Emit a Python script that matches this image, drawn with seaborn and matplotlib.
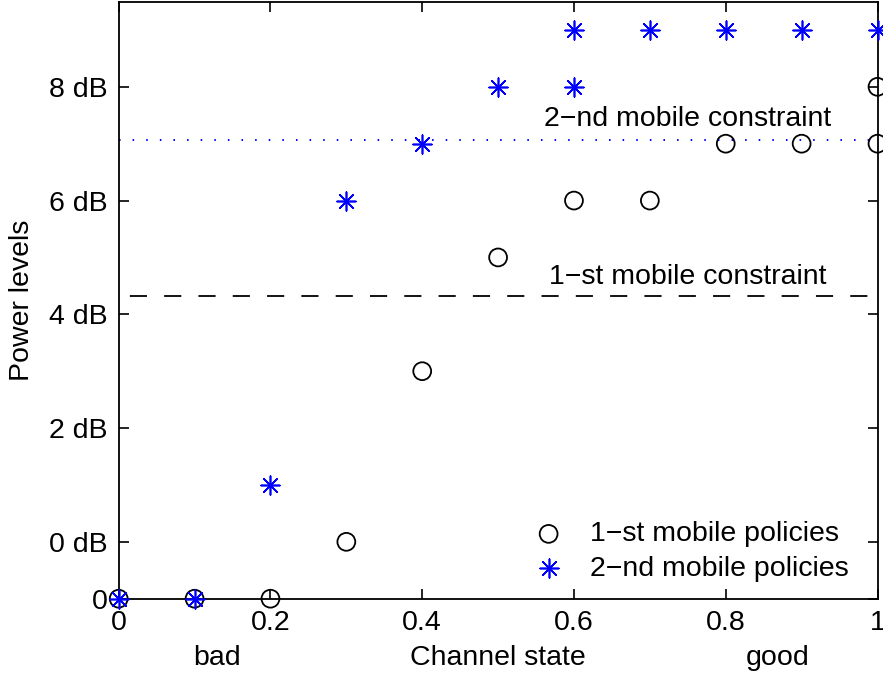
import matplotlib
matplotlib.use("Agg")
import matplotlib.pyplot as plt
import seaborn as sns

# policy levels (-1 stands for zero power)
first_x = [0.0, 0.1, 0.2, 0.3, 0.4, 0.5, 0.6, 0.7, 0.8, 0.9, 1.0, 1.0]
first_y = [-1, -1, -1, 0, 3, 5, 6, 6, 7, 7, 7, 8]
second_x = [0.0, 0.1, 0.2, 0.3, 0.4, 0.5, 0.6, 0.6, 0.7, 0.8, 0.9, 1.0]
second_y = [-1, -1, 1, 6, 7, 8, 8, 9, 9, 9, 9, 9]

first_constraint = 4.32
second_constraint = 7.07

x_ticks = [0, 0.2, 0.4, 0.6, 0.8, 1]
x_tick_labels = ["0", "0.2", "0.4", "0.6", "0.8", "1"]
y_ticks = [-1, 0, 2, 4, 6, 8]
y_tick_labels = ["0", "0 dB", "2 dB", "4 dB", "6 dB", "8 dB"]

sns.set_style("ticks")
plt.rcParams["font.family"] = ["Liberation Sans", "DejaVu Sans"]
plt.rcParams["font.size"] = 20.5
plt.rcParams["axes.linewidth"] = 1.3
plt.rcParams["text.color"] = "black"
plt.rcParams["axes.labelcolor"] = "black"
plt.rcParams["xtick.color"] = "black"
plt.rcParams["ytick.color"] = "black"
plt.rcParams["axes.edgecolor"] = "black"

fig = plt.figure(figsize=(8.83, 6.79), dpi=100)
ax = fig.add_axes([118.7 / 883, 1 - 598.7 / 679, (877.5 - 118.7) / 883, (598.7 - 1.5) / 679])

ax.axhline(first_constraint, color="black", lw=1.3, linestyle=(13, (9.5, 9.5)))
ax.axhline(second_constraint, color="blue", lw=1.4, linestyle=(0, (0.8, 6.2)))

sns.scatterplot(x=first_x, y=first_y, marker="o", s=165, facecolor="none",
                edgecolor="black", linewidth=1.3, clip_on=False, zorder=3,
                label="1\u2212st mobile policies", ax=ax)
sns.scatterplot(x=second_x, y=second_y, marker=(8, 2, 0), s=180, color="blue",
                linewidth=1.2, clip_on=False, zorder=4,
                label="2\u2212nd mobile policies", ax=ax)

ax.text(0.75, 7.43, "2\u2212nd mobile constraint", ha="center", va="center")
ax.text(0.75, 4.66, "1\u2212st mobile constraint", ha="center", va="center")

ax.set_xlim(0, 1)
ax.set_ylim(-1, 9.5)
ax.set_xticks(x_ticks)
ax.set_xticklabels(x_tick_labels)
ax.set_yticks(y_ticks)
ax.set_yticklabels(y_tick_labels)
ax.tick_params(direction="in", length=7, width=1.2, top=True, right=True, pad=8)
for side in ["top", "right", "bottom", "left"]:
    ax.spines[side].set_visible(True)

ax.set_xlabel("")
ax.set_ylabel("Power levels", labelpad=10)
ax.text(0.5, -0.1, "Channel state", transform=ax.transAxes, ha="center", va="center")
ax.text(0.129, -0.1, "bad", transform=ax.transAxes, ha="center", va="center")
ax.text(0.868, -0.1, "good", transform=ax.transAxes, ha="center", va="center")

ax.legend(loc="lower right", bbox_to_anchor=(0.992, -0.01), frameon=False,
          handlelength=1.0, handletextpad=0.95, labelspacing=0.3, borderpad=0.3)

fig.savefig("out.png", dpi=100)
